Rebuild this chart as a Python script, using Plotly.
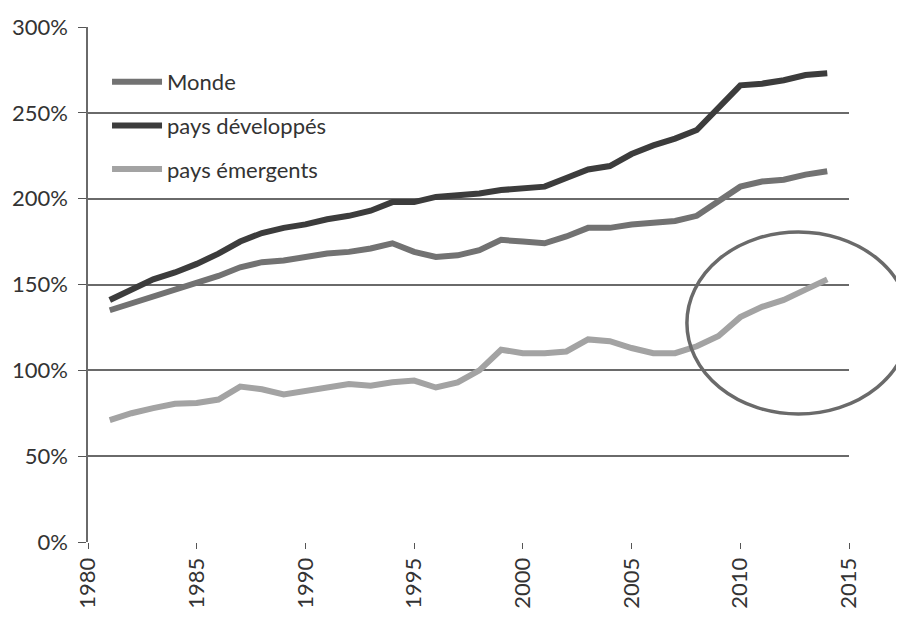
import plotly.graph_objects as go

years = list(range(1981, 2015))

monde = [135, 139, 143, 147, 151, 155, 160, 163, 164, 166, 168, 169, 171, 174, 169,
         166, 167, 170, 176, 175, 174, 178, 183, 183, 185, 186, 187, 190, 199, 207,
         210, 211, 214, 216]

developpes = [141, 147, 153, 157, 162, 168, 175, 180, 183, 185, 188, 190, 193, 198, 198,
              201, 202, 203, 205, 206, 207, 212, 217, 219, 226, 231, 235, 240, 253, 266,
              267, 269, 272, 273]

emergents = [71, 75, 78, 80.5, 81, 83, 90.5, 89, 86, 88, 90, 92, 91, 93, 94,
             90, 93, 100, 112, 110, 110, 111, 118, 117, 113, 110, 110, 114, 120, 131,
             137, 141, 147, 153]

series_names = ["Monde", "pays développés", "pays émergents"]
series_values = [monde, developpes, emergents]
series_colors = ["#727272", "#3c3c3c", "#a3a3a3"]

x_ticks = [1980, 1985, 1990, 1995, 2000, 2005, 2010, 2015]
y_ticks = [0, 50, 100, 150, 200, 250, 300]
y_labels = [f"{v}%" for v in y_ticks]

FONT = "Lato, 'Open Sans', sans-serif"

fig = go.Figure()
for name, vals, col in zip(series_names, series_values, series_colors):
    fig.add_trace(go.Scatter(
        x=years, y=vals, mode="lines", name=name,
        legendgroup=name,
        line=dict(color=col, width=6),
    ))

# hand-drawn ellipse highlighting recent emerging-market growth
fig.add_shape(type="circle", xref="paper", yref="paper",
              x0=0.787, x1=1.08, y0=0.2485, y1=0.602,
              line=dict(color="#6a6a6a", width=3.5), layer="above")

fig.update_layout(
    width=904, height=617,
    margin=dict(l=80, r=63, t=19, b=83),
    paper_bgcolor="white", plot_bgcolor="white",
    font=dict(family=FONT, size=22, color="#333333"),
    showlegend=True,
    legend=dict(
        x=0.025, y=0.934, xanchor="left", yanchor="top",
        bgcolor="rgba(0,0,0,0)",
        font=dict(family=FONT, size=22, color="#333333"),
        itemwidth=50, tracegroupgap=12,
        traceorder="grouped",
    ),
)

fig.update_xaxes(
    range=[1980, 2015], automargin=False,
    tickmode="array", tickvals=x_ticks, ticktext=[str(t) for t in x_ticks],
    tickangle=-90,
    ticks="outside", ticklen=6, tickcolor="#555555",
    showgrid=False, zeroline=False,
    showline=False,
    tickfont=dict(family=FONT, size=22, color="#333333"),
)
fig.update_yaxes(
    range=[0, 300], automargin=False,
    tickmode="array", tickvals=y_ticks, ticktext=y_labels,
    ticks="outside", ticklen=8, tickcolor="#555555",
    ticklabelstandoff=6,
    showgrid=True, gridcolor="#6a6a6a", gridwidth=1.5,
    zeroline=False,
    showline=True, linecolor="#6a6a6a", linewidth=1.5,
    tickfont=dict(family=FONT, size=22, color="#333333"),
)

fig.write_html("out.html")
